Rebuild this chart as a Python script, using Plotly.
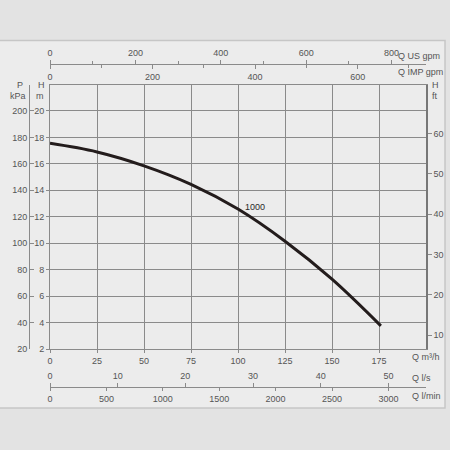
import plotly.graph_objects as go

# ---- data ----
q_m3h = [0, 25, 50, 75, 100, 125, 150, 176]
h_m = [17.55, 16.9, 15.85, 14.45, 12.58, 10.15, 7.28, 3.75]
curve_label = "1000"
curve_label_q = 109.3
curve_label_h = 12.76

q_ticks = [0, 25, 50, 75, 100, 125, 150, 175]
h_ticks = [2, 4, 6, 8, 10, 12, 14, 16, 18, 20]
ft_ticks = [10, 20, 30, 40, 50, 60]
kpa_ticks = [20, 40, 60, 80, 100, 120, 140, 160, 180, 200]
usgpm_ticks = [0, 200, 400, 600, 800]
impgpm_ticks = [0, 200, 400, 600]
ls_ticks = [0, 10, 20, 30, 40, 50]
lmin_ticks = [0, 500, 1000, 1500, 2000, 2500, 3000]

# unit conversions (per unit -> m3/h or m)
US_GPM = 0.227125
IMP_GPM = 0.272765
L_S = 3.6
L_MIN = 0.06
FT = 0.3048
KPA_PER_M = 10.0

Q_RANGE = [0, 200]
H_RANGE = [2, 22]

# ---- layout geometry ----
W, HGT = 450, 450
L, R, T, B = 20, 24, 45, 45
PW = W - L - R
PH = HGT - T - B


def px(x):
    return (x - L) / PW


def py(y):
    return (HGT - B - y) / PH


GRID = "#8a8a8a"
TXT = "#555555"
FONT = "Liberation Sans, Arial, sans-serif"
tf = dict(size=9, color=TXT, family=FONT)

fig = go.Figure()
fig.add_trace(go.Scatter(
    x=q_m3h, y=h_m, mode="lines",
    line=dict(color="#231c1c", width=3, shape="spline", smoothing=1),
    xaxis="x", yaxis="y", hoverinfo="skip", showlegend=False))

# dummy traces so every axis is drawn
for xa, ya in [("x2", "y"), ("x3", "y"), ("x4", "y"), ("x5", "y"), ("x", "y2"), ("x", "y3")]:
    fig.add_trace(go.Scatter(x=[None], y=[None], xaxis=xa, yaxis=ya,
                             showlegend=False, hoverinfo="skip"))

common = dict(showgrid=False, zeroline=False, showline=True, linecolor=GRID,
              linewidth=1, tickcolor=GRID, tickfont=tf, fixedrange=True,
              automargin=False)

fig.update_layout(
    width=W, height=HGT, autosize=False,
    margin=dict(l=L, r=R, t=T, b=B, pad=0, autoexpand=False),
    paper_bgcolor="#e3e3e3",
    plot_bgcolor="rgba(0,0,0,0)",
    font=dict(family=FONT, color=TXT, size=9),
    showlegend=False,
    xaxis=dict(domain=[px(50), 1], range=Q_RANGE, tickvals=q_ticks,
               ticks="outside", ticklen=3, showgrid=True, gridcolor=GRID,
               gridwidth=1, showline=True, linecolor=GRID, mirror=True,
               zeroline=False, tickcolor=GRID, tickfont=tf, anchor="y",
               fixedrange=True, automargin=False),
    yaxis=dict(domain=[py(349), py(84.5)], range=H_RANGE, tickvals=h_ticks,
               ticks="outside", ticklen=3, showgrid=True, gridcolor=GRID,
               gridwidth=1, showline=True, linecolor=GRID, zeroline=False,
               tickcolor=GRID, tickfont=tf, anchor="x", fixedrange=True,
               automargin=False),
    yaxis2=dict(overlaying="y", side="right", anchor="x",
                range=[H_RANGE[0] / FT, H_RANGE[1] / FT], tickvals=ft_ticks,
                ticks="outside", ticklen=4, **{**common, "linewidth": 1.5, "linecolor": "#777777"}),
    yaxis3=dict(overlaying="y", side="left", anchor="free", position=px(29),
                range=[H_RANGE[0] * KPA_PER_M, H_RANGE[1] * KPA_PER_M],
                tickvals=kpa_ticks, ticks="inside", ticklen=4, **common),
    xaxis2=dict(overlaying="x", side="top", anchor="free", position=py(64),
                range=[Q_RANGE[0] / US_GPM, Q_RANGE[1] / US_GPM],
                tickvals=usgpm_ticks, ticks="outside", ticklen=4,
                minor=dict(tickvals=[100, 300, 500, 700], ticks="outside",
                           ticklen=3, tickcolor=GRID), **common),
    xaxis3=dict(overlaying="x", side="bottom", anchor="free", position=py(64),
                range=[Q_RANGE[0] / IMP_GPM, Q_RANGE[1] / IMP_GPM],
                tickvals=impgpm_ticks, ticks="outside", ticklen=4,
                minor=dict(tickvals=[100, 300, 500, 700], ticks="outside",
                           ticklen=3, tickcolor=GRID), **common),
    xaxis4=dict(overlaying="x", side="top", anchor="free", position=py(387),
                range=[Q_RANGE[0] / L_S, Q_RANGE[1] / L_S],
                tickvals=ls_ticks, ticks="outside", ticklen=4, **common),
    xaxis5=dict(overlaying="x", side="bottom", anchor="free", position=py(387),
                range=[Q_RANGE[0] / L_MIN, Q_RANGE[1] / L_MIN],
                tickvals=lmin_ticks, ticks="outside", ticklen=3, **common),
)

# panel background
fig.add_shape(type="rect", xref="paper", yref="paper",
              x0=px(-5), x1=px(445), y0=py(408), y1=py(40.5),
              fillcolor="#ececec", line=dict(color="#c6c6c6", width=1.5),
              layer="below")


def ann(text, x, y, xanchor="center", size=9):
    fig.add_annotation(text=text, x=px(x), y=py(y), xref="paper", yref="paper",
                       xanchor=xanchor, yanchor="middle", showarrow=False,
                       font=dict(size=size, color=TXT, family=FONT))


ann("P", 20, 85)
ann("kPa", 18, 96)
ann("H", 41, 85)
ann("m", 40, 96)
ann("H", 435, 85)
ann("ft", 435, 96)
ann("Q US gpm", 396, 56, "left")
ann("Q IMP gpm", 396, 72, "left")
ann("Q m³/h", 410, 357, "left")
ann("Q l/s", 410, 378, "left")
ann("Q l/min", 410, 396, "left")

fig.add_annotation(text=curve_label, x=curve_label_q, y=curve_label_h,
                   xref="x", yref="y", showarrow=False,
                   font=dict(size=9, color="#2a2a2a", family="Liberation Sans Narrow, Liberation Sans, Arial"))

fig.write_html("out.html",
               config={"displayModeBar": False, "responsive": False},
               post_script="document.body.style.margin='0';document.body.style.overflow='hidden';")
